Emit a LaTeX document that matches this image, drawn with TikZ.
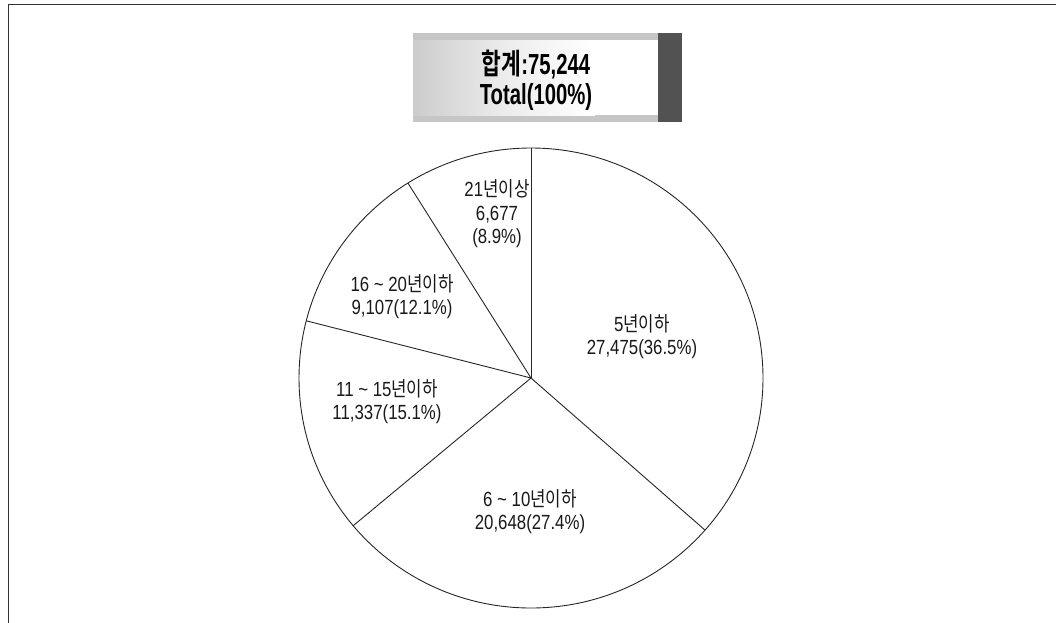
\documentclass[tikz,border=0pt]{standalone}
\usepackage{fontspec}
\setmainfont[FakeStretch=0.82]{Liberation Sans}
\newfontfamily\kr[FakeStretch=0.82]{Noto Sans CJK KR}
\newfontfamily\tbf[FakeStretch=0.70]{Liberation Sans Bold}
\newfontfamily\krb[FakeStretch=0.74]{Noto Sans CJK KR Bold}
\usetikzlibrary{calc}
\tikzset{
  lbl/.style={align=center, inner sep=0pt, font=\fontsize{20.5}{23.5}\selectfont, text=black!90},
  ttl/.style={align=center, inner sep=0pt, font=\fontsize{29}{30}\selectfont, text=black},
  slice/.style={draw=black!85, line width=0.9pt},
  frame/.style={draw=black!80, line width=1.6pt}
}
\begin{document}
\begin{tikzpicture}[x=1pt,y=-1pt]
\useasboundingbox (0,0) rectangle (1056,622);
% frame (top and left edges)
\draw[frame] (8.5,623) -- (8.5,4.5) -- (1056,4.5);
% title box
\fill[gray!45] (413,33) rectangle (682,122);
\shade[left color=gray!40, right color=white, middle color=white!85!gray] (413,40) rectangle (595,115);
\fill[white] (595,40) rectangle (658,115);
\fill[black!68] (658,33) rectangle (682,122);
\node[ttl] (t1) at (536,80) {\krb 합계\tbf :75,244\\\tbf Total(100\%)};
% pie
\coordinate (c) at (531,378);
\coordinate (p0) at ($(c)+({232*cos(90)},{-230*sin(90)})$);
\coordinate (p1) at ($(c)+({232*cos(-41.4)},{-230*sin(-41.4)})$);
\coordinate (p2) at ($(c)+({232*cos(-140.04)},{-230*sin(-140.04)})$);
\coordinate (p3) at ($(c)+({232*cos(-194.4)},{-230*sin(-194.4)})$);
\coordinate (p4) at ($(c)+({232*cos(-237.96)},{-230*sin(-237.96)})$);
\draw[slice] (c) ellipse [x radius=232, y radius=230];
\draw[slice] (c) -- (p0);
\draw[slice] (c) -- (p1);
\draw[slice] (c) -- (p2);
\draw[slice] (c) -- (p3);
\draw[slice] (c) -- (p4);
% labels
\node[lbl] (l5) at (497,214) {21{\kr 년이상}\\6,677\\(8.9\%)};
\node[lbl] (l4) at (402,296.5) {16 \textasciitilde{} 20{\kr 년이하}\\9,107(12.1\%)};
\node[lbl] (l3) at (387,401.5) {11 \textasciitilde{} 15{\kr 년이하}\\11,337(15.1\%)};
\node[lbl] (l1) at (642,336.5) {5{\kr 년이하}\\27,475(36.5\%)};
\node[lbl] (l2) at (530,511.5) {6 \textasciitilde{} 10{\kr 년이하}\\20,648(27.4\%)};
\end{tikzpicture}
\end{document}
